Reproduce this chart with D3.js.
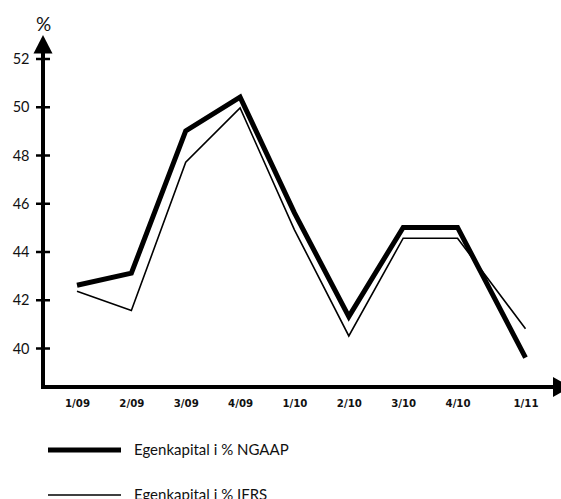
<!DOCTYPE html>
<html><head><meta charset="utf-8">
<script src="https://cdn.jsdelivr.net/npm/d3@7"></script>
<style>
html,body{margin:0;padding:0;background:#fff;}
svg{display:block;}
</style></head>
<body>
<svg id="chart" width="561" height="499"></svg>
<script>
const categories = ["1/09","2/09","3/09","4/09","1/10","2/10","3/10","4/10","1/11"];
const quarterPos = [0,1,2,3,4,5,6,7,8.25];
const ngaap = [42.6,43.1,49.0,50.4,45.6,41.3,45.0,45.0,39.6];
const ifrs  = [42.35,41.55,47.7,49.95,44.9,40.5,44.55,44.55,40.8];
const yTicks = [40,42,44,46,48,50,52];
const seriesNames = ["Egenkapital i % NGAAP","Egenkapital i % IFRS"];

const svg = d3.select("#chart");
const x = d3.scaleLinear().domain([0, 8.25]).range([77, 525.5]);
const y = d3.scaleLinear().domain([40, 52]).range([348, 58.5]);
const axisX = 43, axisY = 387;

// y axis ticks + labels
const yAxis = d3.axisLeft(y).tickValues(yTicks).tickSize(0).tickPadding(0);
const gy = svg.append("g").attr("transform", `translate(${axisX},0)`).call(yAxis);
gy.select(".domain").remove();
gy.selectAll(".tick line").attr("x1", -7).attr("x2", 7).attr("stroke", "#000").attr("stroke-width", 2.5);
gy.selectAll(".tick text").attr("x", -13.5).attr("dy", "0.36em")
  .attr("font-family", "Lato, 'Open Sans', sans-serif").attr("font-size", 14.5).attr("fill", "#111");

// x axis labels
const xAxis = d3.axisBottom(x).tickValues(quarterPos).tickFormat((d,i)=>categories[i]).tickSize(0).tickPadding(0);
const gx = svg.append("g").attr("transform", `translate(0,${axisY})`).call(xAxis);
gx.select(".domain").remove();
gx.selectAll(".tick text").attr("y", 20).attr("dy", 0)
  .attr("font-family", "'DejaVu Sans', sans-serif").attr("font-weight", "bold")
  .attr("font-size", 10.2).attr("fill", "#111");

// axes lines with arrows
svg.append("line").attr("x1", axisX).attr("x2", axisX).attr("y1", axisY+2).attr("y2", 52)
  .attr("stroke", "#000").attr("stroke-width", 4);
svg.append("line").attr("x1", axisX-2).attr("x2", 554).attr("y1", axisY).attr("y2", axisY)
  .attr("stroke", "#000").attr("stroke-width", 4);
svg.append("path").attr("d", `M${axisX},35 L${axisX+9.5},53.5 L${axisX-9.5},53.5 Z`).attr("fill", "#000");
svg.append("path").attr("d", `M571,${axisY} L553,${axisY-10} L553,${axisY+10} Z`).attr("fill", "#000");

svg.append("text").attr("x", axisX+0.5).attr("y", 31).attr("text-anchor", "middle")
  .attr("font-family", "Lato, 'Open Sans', sans-serif").attr("font-size", 19).attr("fill", "#111").text("%");

// lines
const line = d3.line().x((d,i)=>x(quarterPos[i])).y(d=>y(d));
svg.append("path").datum(ifrs).attr("d", line).attr("fill", "none")
  .attr("stroke", "#000").attr("stroke-width", 1.6).attr("stroke-linejoin", "miter");
svg.append("path").datum(ngaap).attr("d", line).attr("fill", "none")
  .attr("stroke", "#000").attr("stroke-width", 5).attr("stroke-linejoin", "miter");

// legend
const legend = [{name: seriesNames[0], w: 5, y: 450}, {name: seriesNames[1], w: 1.6, y: 495}];
legend.forEach(l => {
  svg.append("line").attr("x1", 48).attr("x2", 121).attr("y1", l.y).attr("y2", l.y)
    .attr("stroke", "#000").attr("stroke-width", l.w);
  svg.append("text").attr("x", 134).attr("y", l.y + 5)
    .attr("font-family", "Lato, 'Open Sans', sans-serif").attr("font-size", 15).attr("fill", "#111").text(l.name);
});
</script>
</body></html>
